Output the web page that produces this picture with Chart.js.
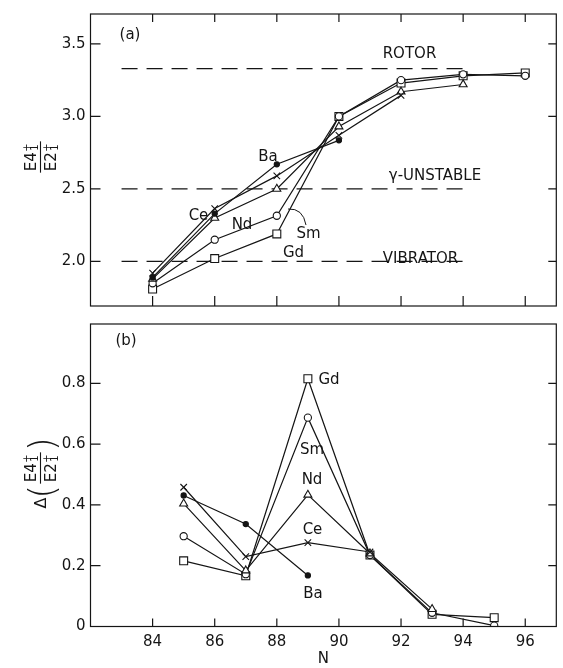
<!DOCTYPE html>
<html><head><meta charset="utf-8">
<script src="https://cdn.jsdelivr.net/npm/chart.js@4.4.0/dist/chart.umd.min.js"></script>
<style>
html,body{margin:0;padding:0;background:#fff;}
body{width:563px;height:668px;position:relative;overflow:hidden;}
canvas{position:absolute;left:0;}
#topChart{top:0;}
#botChart{top:310px;}
</style></head><body>
<canvas id="topChart" width="563" height="320"></canvas>
<canvas id="botChart" width="563" height="358"></canvas>
<script>
// ---------- data ----------
const nTop = [84, 86, 88, 90, 92, 94, 96];
const nBottom = [85, 87, 89, 91, 93, 95];
const xTickValues = [84, 86, 88, 90, 92, 94, 96];
const topTickValues = [2.0, 2.5, 3.0, 3.5];
const bottomTickValues = [0, 0.2, 0.4, 0.6, 0.8];

// (a) E4/E2 ratio
const ratioBa = [1.89, 2.33, 2.67, 2.835];
const ratioCe = [1.92, 2.365, 2.59, 2.87, 3.145];
const ratioNd = [1.88, 2.30, 2.50, 2.93, 3.17, 3.22];
const ratioSm = [1.85, 2.15, 2.315, 3.00, 3.25, 3.29, 3.28];
const ratioGd = [1.81, 2.02, 2.19, 3.00, 3.23, 3.28, 3.30];

// (b) Delta of ratio
const deltaBa = [0.431, 0.337, 0.168];
const deltaCe = [0.458, 0.230, 0.276, 0.245];
const deltaNd = [0.404, 0.184, 0.433, 0.240, 0.057];
const deltaSm = [0.297, 0.172, 0.687, 0.235, 0.045, 0.003];
const deltaGd = [0.216, 0.167, 0.815, 0.235, 0.040, 0.029];

// reference limits
const limitNames = ['ROTOR', 'γ-UNSTABLE', 'VIBRATOR'];
const limitValues = [3.33, 2.5, 2.0];
const limitSpan = [83, 94];

// ---------- helpers ----------
const FONT = '"DejaVu Sans", "Liberation Sans", sans-serif';
const INK = '#151515';
Chart.defaults.font.family = FONT;
Chart.defaults.font.size = 15;
Chart.defaults.color = INK;

const styles = {
  Ba: {pointStyle: 'circle', radius: 2.6, bg: INK},
  Ce: {pointStyle: 'crossRot', radius: 4.6, bg: INK},
  Nd: {pointStyle: 'triangle', radius: 4.6, bg: '#fff'},
  Sm: {pointStyle: 'circle', radius: 3.6, bg: '#fff'},
  Gd: {pointStyle: 'rect', radius: 5.6, bg: '#fff'}
};

function pts(xs, ys) { return ys.map((v, i) => ({x: xs[i], y: v})); }

function seriesSets(name, xs, ys) {
  const s = styles[name];
  const data = pts(xs, ys);
  return [
    {label: name + ' line', data, showLine: true, borderColor: INK, borderWidth: 1.2,
     pointRadius: 0, order: 10, tension: 0},
    {label: name, data, showLine: false, pointStyle: s.pointStyle, pointRadius: s.radius,
     pointBackgroundColor: s.bg, pointBorderColor: INK, pointBorderWidth: 1.1, order: 0}
  ];
}

function drawLabel(ctx, text, cx, cy) {
  ctx.font = '15px ' + FONT;
  ctx.textAlign = 'center';
  ctx.textBaseline = 'alphabetic';
  ctx.fillText(text, cx, cy + 5.5);
}

function drawTerm(ctx, base, x, baseline, size) {
  ctx.font = size + 'px ' + FONT;
  ctx.textAlign = 'left';
  ctx.textBaseline = 'alphabetic';
  ctx.fillText(base, x, baseline);
  const w = ctx.measureText(base).width;
  ctx.font = Math.round(size * 0.68) + 'px ' + FONT;
  ctx.fillText('+', x + w + 0.5, baseline - size * 0.42);
  ctx.fillText('1', x + w + 1.5, baseline + size * 0.12);
  return w + size * 0.62;
}

function termWidth(ctx, base, size) {
  ctx.font = size + 'px ' + FONT;
  return ctx.measureText(base).width + size * 0.62;
}

function drawFraction(ctx, size) {
  const wn = termWidth(ctx, 'E4', size);
  const wd = termWidth(ctx, 'E2', size);
  drawTerm(ctx, 'E4', -wn / 2, -4, size);
  drawTerm(ctx, 'E2', -wd / 2, 16, size);
  const half = Math.max(wn, wd) / 2 + 1.5;
  ctx.beginPath();
  ctx.lineWidth = 1.1;
  ctx.moveTo(-half, 0.5); ctx.lineTo(half, 0.5);
  ctx.stroke();
  return half;
}

const framePlugin = {
  id: 'frame',
  afterDraw(chart, args, opts) {
    const {ctx, chartArea: a, scales} = chart;
    ctx.save();
    ctx.strokeStyle = INK; ctx.fillStyle = INK;
    ctx.lineWidth = 1.2;
    ctx.strokeRect(a.left, a.top, a.right - a.left, a.bottom - a.top);
    ctx.beginPath();
    for (const t of opts.yTicks) {
      const p = scales.y.getPixelForValue(t);
      if (p <= a.top + 1 || p >= a.bottom - 1) continue;
      ctx.moveTo(a.left, p); ctx.lineTo(a.left + 10, p);
      ctx.moveTo(a.right, p); ctx.lineTo(a.right - 8, p);
    }
    for (const t of xTickValues) {
      const p = scales.x.getPixelForValue(t);
      if (opts.topTicks) { ctx.moveTo(p, a.top); ctx.lineTo(p, a.top + 8); }
      ctx.moveTo(p, a.bottom); ctx.lineTo(p, a.bottom - opts.bottomTickLen);
    }
    ctx.stroke();
    for (const l of opts.labels) drawLabel(ctx, l.text, l.x, l.y);
    if (opts.extra) opts.extra(ctx, chart);
    ctx.restore();
  }
};

// ---------- top chart ----------
const topDatasets = [];
limitValues.forEach((v, i) => {
  topDatasets.push({label: limitNames[i], data: limitSpan.map(x => ({x, y: v})), showLine: true,
    borderColor: INK, borderWidth: 1.2, borderDash: [16, 9], pointRadius: 0, order: 20});
});
topDatasets.push(...seriesSets('Ba', nTop, ratioBa));
topDatasets.push(...seriesSets('Ce', nTop, ratioCe));
topDatasets.push(...seriesSets('Nd', nTop, ratioNd));
topDatasets.push(...seriesSets('Sm', nTop, ratioSm));
topDatasets.push(...seriesSets('Gd', nTop, ratioGd));

new Chart(document.getElementById('topChart'), {
  type: 'scatter',
  data: {datasets: topDatasets},
  options: {
    responsive: false, animation: false, devicePixelRatio: 1,
    layout: {padding: {left: 0, right: 1.5, top: 6.5, bottom: 3.5}},
    plugins: {
      legend: {display: false}, tooltip: {enabled: false},
      frame: {
        yTicks: topTickValues, topTicks: true, bottomTickLen: 10,
        labels: [
          {text: '(a)', x: 130, y: 33},
          {text: limitNames[0], x: 409.5, y: 52.5},
          {text: 'Ba', x: 268, y: 155.5},
          {text: limitNames[1], x: 435, y: 174},
          {text: 'Ce', x: 198.5, y: 214.5},
          {text: 'Nd', x: 242, y: 223.5},
          {text: 'Sm', x: 308.5, y: 232},
          {text: 'Gd', x: 293.5, y: 251.5},
          {text: limitNames[2], x: 420.5, y: 257}
        ],
        extra(ctx) {
          // pointer from Sm label to Sm curve
          ctx.beginPath(); ctx.lineWidth = 1;
          ctx.moveTo(288, 209); ctx.quadraticCurveTo(303, 208, 306, 225);
          ctx.stroke();
          // y title
          ctx.save();
          ctx.translate(40, 157); ctx.rotate(-Math.PI / 2);
          drawFraction(ctx, 15);
          ctx.restore();
        }
      }
    },
    scales: {
      x: {type: 'linear', min: 82, max: 97, display: false},
      y: {
        type: 'linear', min: 1.693, max: 3.706, position: 'left',
        afterFit(s) { s.width = 90.5; },
        afterBuildTicks(s) { s.ticks = topTickValues.map(v => ({value: v})); },
        grid: {display: false, drawTicks: false}, border: {display: false},
        ticks: {padding: 5, color: INK, font: {size: 15}, callback: v => v.toFixed(1)}
      }
    }
  },
  plugins: [framePlugin]
});

// ---------- bottom chart ----------
const botDatasets = [];
botDatasets.push(...seriesSets('Ba', nBottom, deltaBa));
botDatasets.push(...seriesSets('Ce', nBottom, deltaCe));
botDatasets.push(...seriesSets('Nd', nBottom, deltaNd));
botDatasets.push(...seriesSets('Sm', nBottom, deltaSm));
botDatasets.push(...seriesSets('Gd', nBottom, deltaGd));

new Chart(document.getElementById('botChart'), {
  type: 'scatter',
  data: {datasets: botDatasets},
  options: {
    responsive: false, animation: false, devicePixelRatio: 1,
    layout: {padding: {left: 0, right: 1.5, top: 6.5, bottom: 0}},
    plugins: {
      legend: {display: false}, tooltip: {enabled: false},
      frame: {
        yTicks: bottomTickValues, topTicks: false, bottomTickLen: 8,
        labels: [
          {text: '(b)', x: 126, y: 29},
          {text: 'Gd', x: 329, y: 68},
          {text: 'Sm', x: 312, y: 138.5},
          {text: 'Nd', x: 312, y: 168.5},
          {text: 'Ce', x: 312.5, y: 218},
          {text: 'Ba', x: 313, y: 282.5}
        ],
        extra(ctx) {
          ctx.save();
          ctx.translate(40, 158); ctx.rotate(-Math.PI / 2);
          const half = drawFraction(ctx, 15);
          ctx.font = '300 36px ' + FONT;
          ctx.textBaseline = 'alphabetic';
          ctx.textAlign = 'right';
          ctx.fillText('(', -half - 1, 14);
          ctx.textAlign = 'left';
          ctx.fillText(')', half + 1, 14);
          ctx.font = '16px ' + FONT;
          ctx.textAlign = 'right';
          ctx.fillText('Δ', -half - 14, 6);
          ctx.restore();
        }
      }
    },
    scales: {
      x: {
        type: 'linear', min: 82, max: 97, position: 'bottom',
        afterFit(s) { s.height = 41.5; },
        afterBuildTicks(s) { s.ticks = xTickValues.map(v => ({value: v})); },
        grid: {display: false, drawTicks: false}, border: {display: false},
        ticks: {padding: 7, color: INK, font: {size: 15}, maxRotation: 0, callback: v => String(v)},
        title: {display: true, text: 'N', color: INK, font: {size: 15}, padding: {top: 0, bottom: 0}}
      },
      y: {
        type: 'linear', min: 0, max: 0.995, position: 'left',
        afterFit(s) { s.width = 90.5; },
        afterBuildTicks(s) { s.ticks = bottomTickValues.map(v => ({value: v})); },
        grid: {display: false, drawTicks: false}, border: {display: false},
        ticks: {padding: 5, color: INK, font: {size: 15}, callback: v => (v === 0 ? '0' : v.toFixed(1))}
      }
    }
  },
  plugins: [framePlugin]
});
</script>
</body></html>
